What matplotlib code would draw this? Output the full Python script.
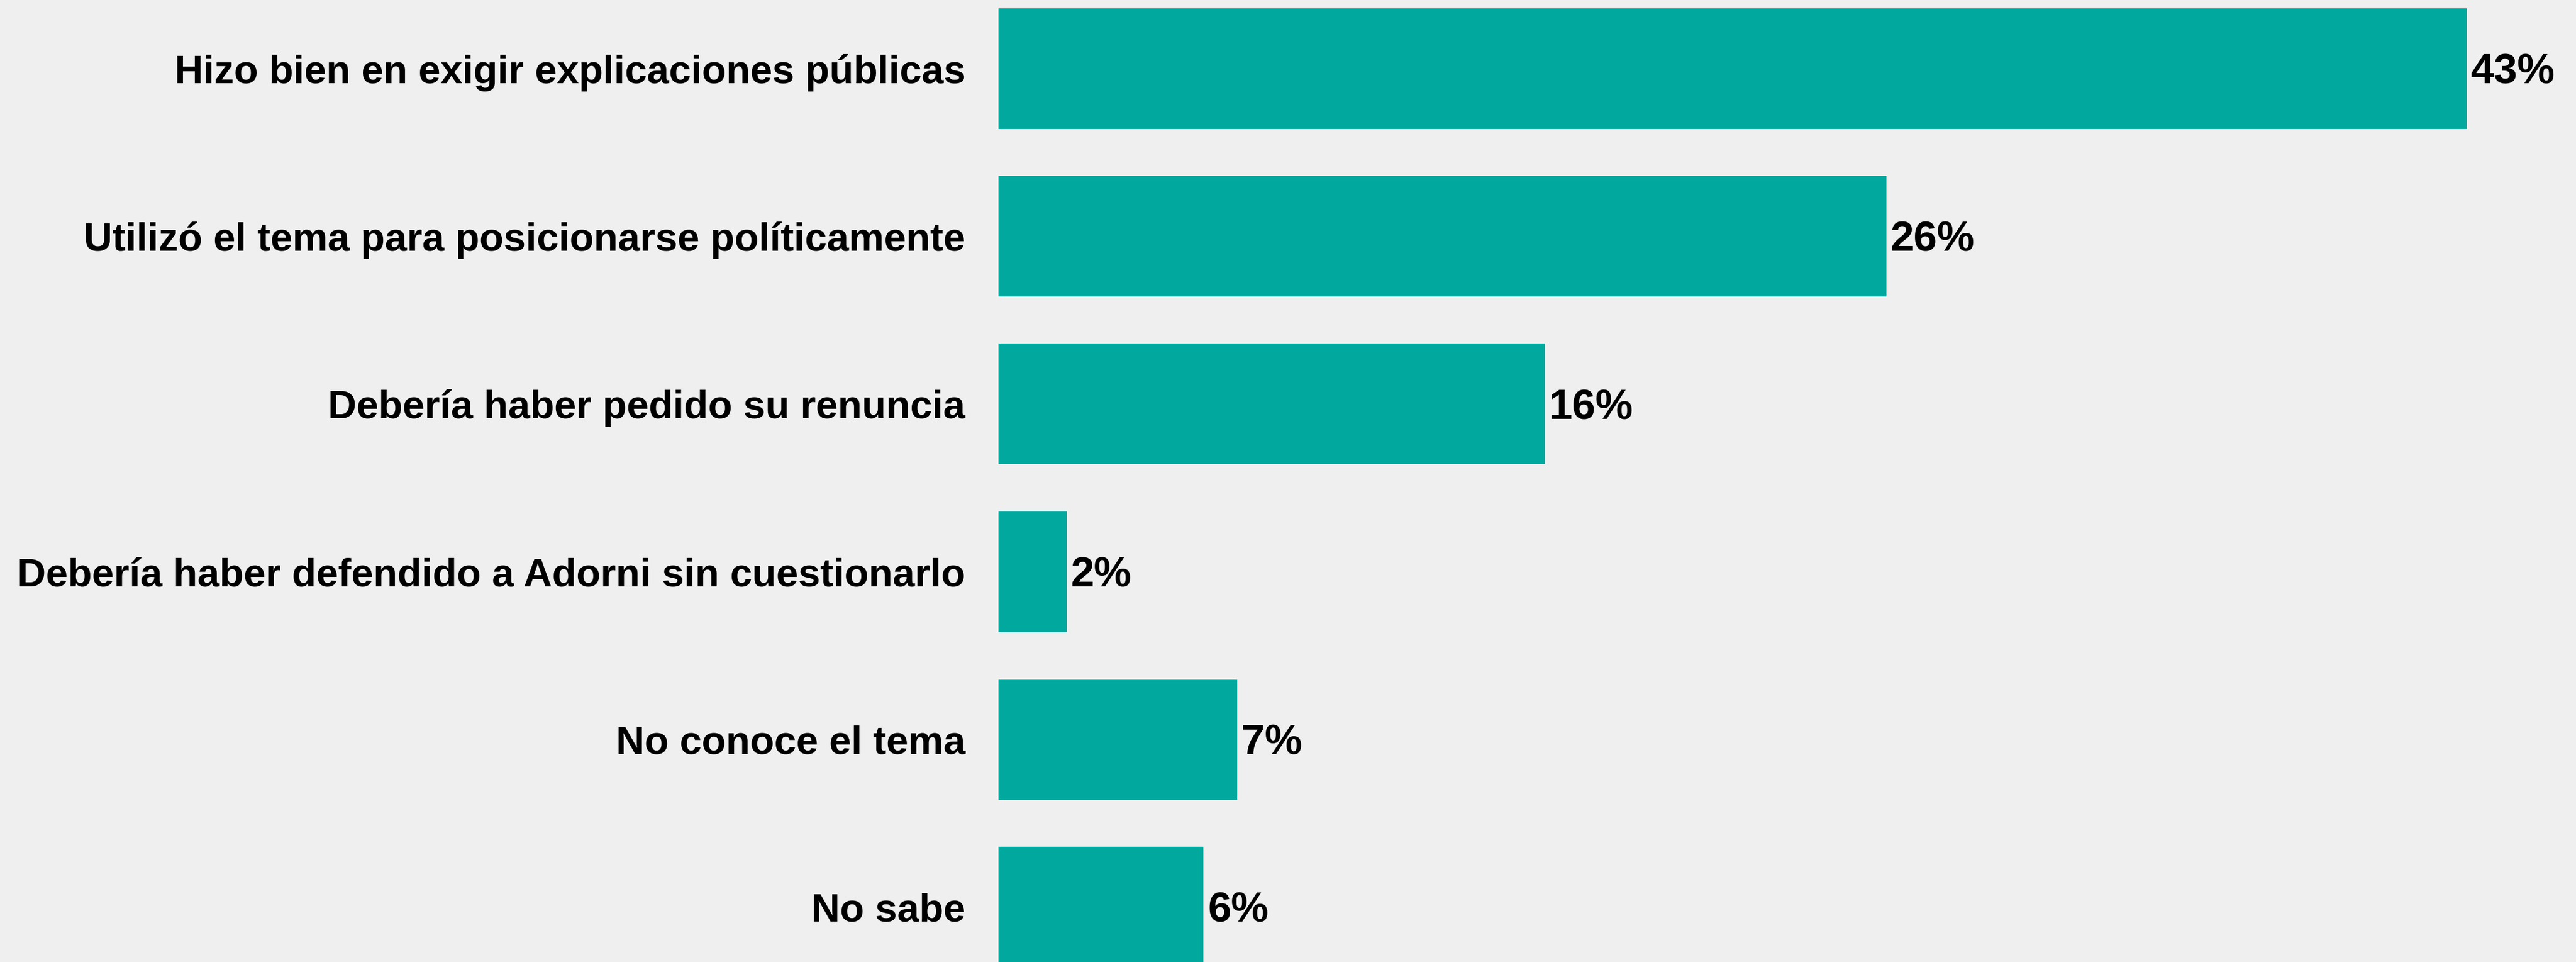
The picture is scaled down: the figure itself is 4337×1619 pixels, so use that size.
import matplotlib.pyplot as plt

categories = [
    "Hizo bien en exigir explicaciones públicas",
    "Utilizó el tema para posicionarse políticamente",
    "Debería haber pedido su renuncia",
    "Debería haber defendido a Adorni sin cuestionarlo",
    "No conoce el tema",
    "No sabe",
]
values = [43, 26, 16, 2, 7, 6]

bg = "#efefef"
teal = "#00a89e"

plt.rcParams["font.family"] = ["Liberation Sans", "DejaVu Sans"]

fig = plt.figure(figsize=(43.37, 16.19), dpi=100, facecolor=bg)
ax = fig.add_axes([1681 / 4337, 0, 1 - 1681 / 4337, 1])
ax.set_facecolor(bg)

pos = list(range(len(categories)))
ax.barh(pos, values, height=0.72, color=teal)

# value labels: baseline shifted so the digits sit centred on the bar
fs_val = 51
for p, v in zip(pos, values):
    ax.annotate(f"{v}%", (v, p), xytext=(5, -0.358 * fs_val),
                textcoords="offset points", va="baseline", ha="left",
                fontsize=fs_val, fontweight="bold", color="black")

ax.set_xlim(0, (4337 - 1681) / 57.49)
ax.set_ylim(5.328, -0.409)
ax.set_yticks(pos)
ax.set_yticklabels(categories, fontsize=48, fontweight="bold")
ax.tick_params(axis="y", length=0, pad=40)
ax.set_xticks([])
for s in ax.spines.values():
    s.set_visible(False)

fig.savefig("out.png", dpi=100, facecolor=bg)
